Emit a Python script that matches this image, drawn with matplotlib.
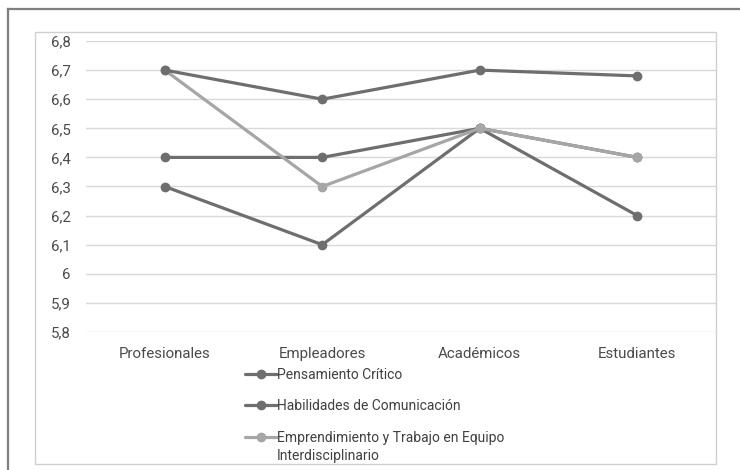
import matplotlib
matplotlib.use("Agg")
import matplotlib.pyplot as plt
from matplotlib.ticker import FuncFormatter, MultipleLocator
from matplotlib.patches import Rectangle
from matplotlib.lines import Line2D
from matplotlib.text import Annotation

categories = ["Profesionales", "Empleadores", "Académicos", "Estudiantes"]
pensamiento = [6.4, 6.4, 6.5, 6.4]
habilidades = [6.3, 6.1, 6.5, 6.2]
emprendimiento = [6.7, 6.3, 6.5, 6.4]
cuarta = [6.7, 6.6, 6.7, 6.68]
labels = ["Pensamiento Crítico", "Habilidades de Comunicación",
          "Emprendimiento y Trabajo en Equipo"]
label_extra = "Interdisciplinario"

plt.rcParams['font.family'] = ['Roboto', 'DejaVu Sans']

W, H = 740, 470
fig = plt.figure(figsize=(W / 100, H / 100), dpi=100)
ax = fig.add_axes([86 / W, 1 - 332 / H, 630 / W, 291 / H])

dark = "#6e6e70"
light = "#a6a6a6"
x = list(range(len(categories)))
kw = dict(lw=2.3, marker="o", ms=6, solid_capstyle="round")
h1, = ax.plot(x, pensamiento, color=dark, label=labels[0], zorder=3, **kw)
h2, = ax.plot(x, habilidades, color=dark, label=labels[1], zorder=3, **kw)
h3, = ax.plot(x, emprendimiento, color=light, label=labels[2], zorder=4, **kw)
h4, = ax.plot(x, cuarta, color=dark, zorder=5, **kw)

ax.set_xlim(-0.5, 3.5)
ax.set_ylim(5.8, 6.8)
ax.yaxis.set_major_locator(MultipleLocator(0.1))
ax.yaxis.set_major_formatter(FuncFormatter(lambda v, p: f"{round(v, 1):g}".replace(".", ",")))
ax.set_xticks(x)
ax.set_xticklabels(categories)
ax.grid(axis="y", color="#d9d9d9", lw=1)
ax.set_axisbelow(True)
for s in ax.spines.values():
    s.set_visible(False)
ax.tick_params(axis="both", length=0, colors="#4a4a4a", labelsize=10.8)
ax.tick_params(axis="y", pad=11)
ax.tick_params(axis="x", pad=11)

# legend
leg = fig.legend(handles=[h1, h2, h3], loc="upper left",
                 bbox_to_anchor=(238 / W, 1 - 361 / H), frameon=False,
                 fontsize=10, labelcolor="#404040", handlelength=2.3,
                 handletextpad=0.0, labelspacing=1.25, borderpad=0)
leg.set_zorder(5)
leg_texts = leg.get_texts()
extra = Annotation(label_extra, xy=(0, 0), xycoords=leg_texts[2], xytext=(0, -3),
                   textcoords="offset points", va="top", ha="left",
                   fontsize=10, color="#404040")
extra.set_zorder(10)
fig.add_artist(extra)

# inner chart box
fig.add_artist(Rectangle((35 / W, 1 - 464 / H), 681 / W, 432 / H,
                         transform=fig.transFigure, fill=False,
                         edgecolor="#d0d0d0", lw=1))
# outer frame (top and left)
fig.add_artist(Line2D([8 / W, 1.0], [1 - 9 / H, 1 - 9 / H],
                      transform=fig.transFigure, color="#7f7f7f", lw=1.6))
fig.add_artist(Line2D([8 / W, 8 / W], [0, 1 - 9 / H],
                      transform=fig.transFigure, color="#7f7f7f", lw=1.6))

fig.savefig("out.png", dpi=100)
